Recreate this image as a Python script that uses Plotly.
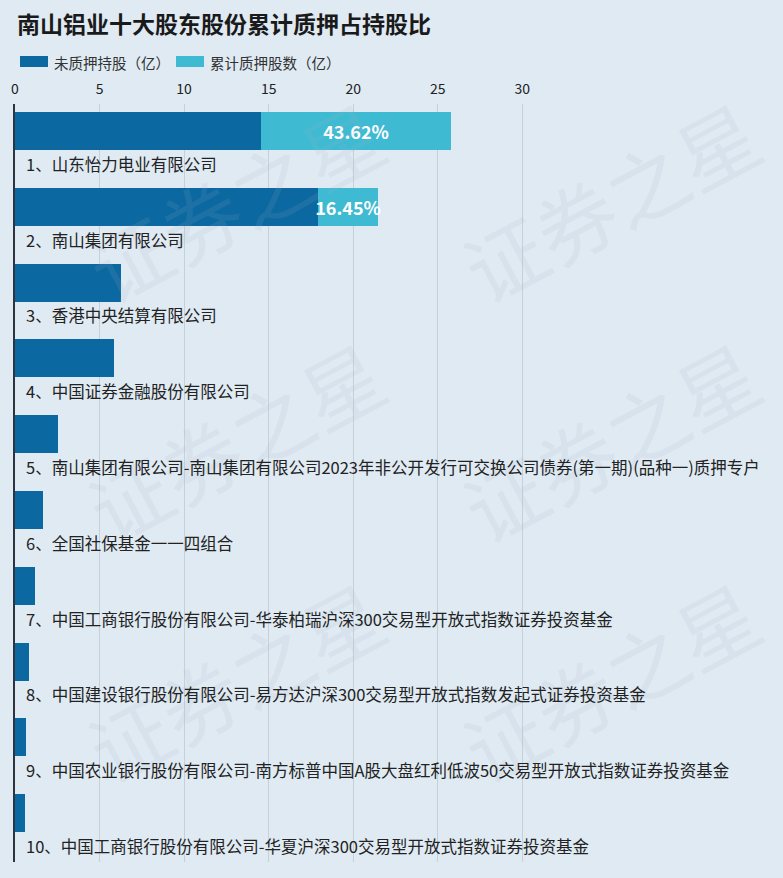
import plotly.graph_objects as go

title_text = "南山铝业十大股东股份累计质押占持股比"
series_names = ["未质押持股（亿）", "累计质押股数（亿）"]
holders = [
    "1、山东怡力电业有限公司",
    "2、南山集团有限公司",
    "3、香港中央结算有限公司",
    "4、中国证券金融股份有限公司",
    "5、南山集团有限公司-南山集团有限公司2023年非公开发行可交换公司债券(第一期)(品种一)质押专户",
    "6、全国社保基金一一四组合",
    "7、中国工商银行股份有限公司-华泰柏瑞沪深300交易型开放式指数证券投资基金",
    "8、中国建设银行股份有限公司-易方达沪深300交易型开放式指数发起式证券投资基金",
    "9、中国农业银行股份有限公司-南方标普中国A股大盘红利低波50交易型开放式指数证券投资基金",
    "10、中国工商银行股份有限公司-华夏沪深300交易型开放式指数证券投资基金",
]
unpledged = [14.55, 17.94, 6.28, 5.88, 2.57, 1.63, 1.19, 0.84, 0.66, 0.61]
pledged = [11.25, 3.53, 0, 0, 0, 0, 0, 0, 0, 0]
pledge_ratio = ["43.62%", "16.45%", "", "", "", "", "", "", "", ""]
x_ticks = [0, 5, 10, 15, 20, 25, 30]
watermark_text = "证券之星"

DARK = "#0b68a1"
LIGHT = "#3fbad3"
BG = "#dfeaf3"
FONT = "Noto Sans CJK SC"

W, H = 783, 878
ML, MR, MT, MB = 15, 7, 104, 16
PW, PH = W - ML - MR, H - MT - MB


def px_x(px):
    return (px - ML) / PW


def px_y(py):
    return (H - MB - py) / PH


idx = list(range(len(holders)))

fig = go.Figure()
fig.add_trace(go.Bar(
    y=idx, x=unpledged, orientation="h", name=series_names[0],
    marker=dict(color=DARK, line=dict(width=0)),
    offset=-0.394, width=0.5, showlegend=False, hoverinfo="x",
))
fig.add_trace(go.Bar(
    y=idx, x=pledged, orientation="h", name=series_names[1],
    marker=dict(color=LIGHT, line=dict(width=0)),
    offset=-0.394, width=0.5, showlegend=False,
    text=pledge_ratio, textposition="inside", insidetextanchor="middle",
    textangle=0, constraintext="none", cliponaxis=False,
    textfont=dict(color="white", size=18, family=FONT, weight="bold"),
    hoverinfo="x",
))

annotations = []

# watermark (drawn first so it sits beneath other annotations)
wm_pos = [(235, 200), (610, 200), (235, 440), (610, 440), (235, 680), (610, 680)]
for (px, py) in wm_pos:
    annotations.append(dict(
        x=px_x(px), y=px_y(py), xref="paper", yref="paper", text=watermark_text,
        showarrow=False, textangle=-28, xanchor="center", yanchor="middle",
        font=dict(size=80, color="rgba(160,176,192,0.13)", family=FONT),
    ))

for i, name in enumerate(holders):
    annotations.append(dict(
        x=0, y=i + 0.29, xref="x", yref="y", text=name, showarrow=False,
        xanchor="left", yanchor="middle", xshift=9,
        font=dict(size=16.5, color="#222222", family=FONT),
    ))

# title
annotations.append(dict(
    x=px_x(15), y=px_y(23), xref="paper", yref="paper", text="<b>" + title_text + "</b>",
    showarrow=False, xanchor="left", yanchor="middle",
    font=dict(size=23, color="#1a1a1a", family=FONT),
))

# custom legend (wide swatches)
legend_items = [(20, 48, 52, DARK, series_names[0]), (176, 204, 208, LIGHT, series_names[1])]
for x0, x1, tx, col, label in legend_items:
    annotations.append(dict(
        x=px_x(tx), y=px_y(62), xref="paper", yref="paper",
        text=label, showarrow=False, xanchor="left", yanchor="middle",
        font=dict(size=14.5, color="#333333", family=FONT),
    ))

shapes = []
for x0, x1, tx, col, label in legend_items:
    shapes.append(dict(
        type="rect", xref="paper", yref="paper",
        x0=px_x(x0), x1=px_x(x1), y0=px_y(67), y1=px_y(56),
        fillcolor=col, line=dict(width=0), layer="above",
    ))

fig.update_layout(
    width=W, height=H,
    margin=dict(l=ML, r=MR, t=MT, b=MB),
    paper_bgcolor=BG, plot_bgcolor=BG,
    barmode="stack", bargap=0,
    font=dict(family=FONT, color="#222222"),
    annotations=annotations,
    shapes=shapes,
    xaxis=dict(
        range=[0, 45], side="top", tickvals=x_ticks, ticktext=[str(v) for v in x_ticks],
        showgrid=True, gridcolor="#c6d0d9", gridwidth=1, zeroline=False,
        showline=False, ticks="", ticklabelstandoff=6,
        tickfont=dict(size=14, color="#222222", family=FONT),
        fixedrange=True,
    ),
    yaxis=dict(
        range=[9.5, -0.5], showticklabels=False, showgrid=False, zeroline=False,
        showline=True, linecolor="#2b3440", linewidth=2, ticks="",
    ),
)

fig.write_html(
    "out.html",
    config={"displayModeBar": False},
    post_script="document.body.style.margin='0';document.body.style.padding='0';",
)
